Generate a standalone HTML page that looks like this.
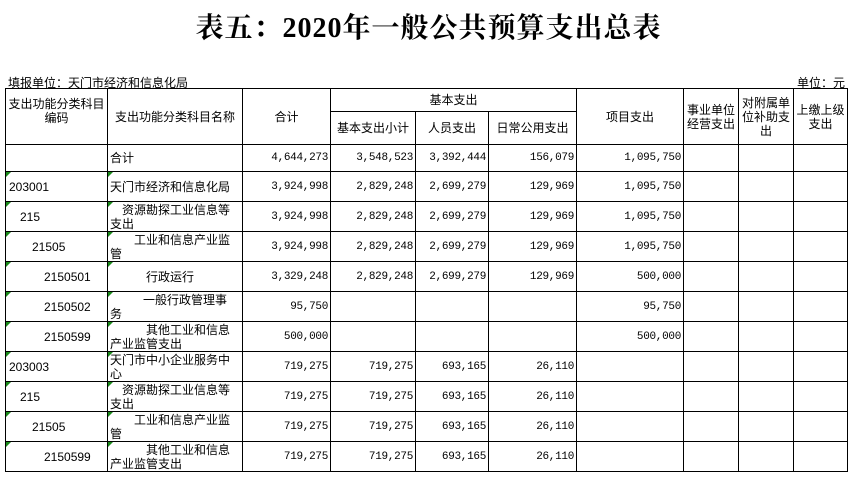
<!DOCTYPE html>
<html><head><meta charset="utf-8"><style>
body{margin:0;width:857px;height:486px;background:#fff;overflow:hidden;font-family:"Liberation Sans","Noto Sans CJK SC",sans-serif;position:relative}
#title{position:absolute;left:0;top:6px;width:857px;text-align:center;font-family:"Liberation Serif","Noto Serif CJK SC",serif;font-weight:bold;font-size:28px;letter-spacing:1px}
.unit{position:absolute;top:74px;font-size:12px}
table{position:absolute;left:5px;top:88px;border-collapse:collapse;table-layout:fixed;font-size:12px}
td{border:1px solid #000;padding:0 2px;overflow:hidden;white-space:nowrap;line-height:14px;position:relative}
td.n{text-align:right;font-family:"Liberation Mono",monospace;font-size:11px;letter-spacing:-0.3px}
td.h{text-align:center;white-space:normal}
.c{height:29px;display:flex;align-items:center;overflow:visible}
.c2{height:29px;overflow:visible;padding-top:1px;box-sizing:border-box}
td.n .c{justify-content:flex-end}
.g:before{content:"";position:absolute;left:0;top:0;border-top:5px solid #1a8a1a;border-right:5px solid transparent}
</style></head><body>
<div id="title">表五：2020年一般公共预算支出总表</div>
<div class="unit" style="left:8px">填报单位：天门市经济和信息化局</div>
<div class="unit" style="left:797px">单位：元</div>
<table>
<colgroup><col style="width:102px"><col style="width:135px"><col style="width:88px"><col style="width:85px"><col style="width:73px"><col style="width:88px"><col style="width:107px"><col style="width:55px"><col style="width:55px"><col style="width:54px"></colgroup>
<tr style="height:23px">
<td class="h" rowspan="2" style="vertical-align:top;padding-top:8px">支出功能分类科目编码</td>
<td class="h" rowspan="2">支出功能分类科目名称</td>
<td class="h" rowspan="2">合计</td>
<td class="h" colspan="3">基本支出</td>
<td class="h" rowspan="2">项目支出</td>
<td class="h" rowspan="2">事业单位经营支出</td>
<td class="h" rowspan="2">对附属单位补助支出</td>
<td class="h" rowspan="2">上缴上级支出</td></tr>
<tr style="height:33px">
<td class="h">基本支出小计</td>
<td class="h">人员支出</td>
<td class="h">日常公用支出</td></tr>
<tbody id="body"></tbody>
</table>
<script>
const codes=["","203001","215","21505","2150501","2150502","2150599","203003","215","21505","2150599"];
const codeIndent=[0,0,11,23,35,35,35,0,11,23,35];
const names=["合计","天门市经济和信息化局","资源勘探工业信息等<br>支出","工业和信息产业监<br>管","行政运行","一般行政管理事<br>务","其他工业和信息<br>产业监管支出","天门市中小企业服务中<br>心","资源勘探工业信息等<br>支出","工业和信息产业监<br>管","其他工业和信息<br>产业监管支出"];
const nameIndent=[0,0,12,24,36,33,36,0,12,24,36];
const totals=["4,644,273","3,924,998","3,924,998","3,924,998","3,329,248","95,750","500,000","719,275","719,275","719,275","719,275"];
const basicSub=["3,548,523","2,829,248","2,829,248","2,829,248","2,829,248","","","719,275","719,275","719,275","719,275"];
const personnel=["3,392,444","2,699,279","2,699,279","2,699,279","2,699,279","","","693,165","693,165","693,165","693,165"];
const publicExp=["156,079","129,969","129,969","129,969","129,969","","","26,110","26,110","26,110","26,110"];
const project=["1,095,750","1,095,750","1,095,750","1,095,750","500,000","95,750","500,000","","","",""];
const tb=document.getElementById('body');
for(let i=0;i<codes.length;i++){
 const tr=document.createElement('tr');
 
 
 const hh=(i==0?'26px':'29px');
 let h='<td class="'+(i>0?'g':'')+'" style="padding-left:'+(3+codeIndent[i])+'px"><div class="c" style="height:'+hh+'">'+codes[i]+'</div></td>';
 const nm=names[i];
 const ind=nameIndent[i];
 h+='<td class="'+(i>0?'g':'')+'">'+(nm.includes('<br>')?'<div class="c2" style="height:'+hh+'"><span style="display:inline-block;text-indent:'+ind+'px">'+nm+'</span></div>':'<div class="c" style="height:'+hh+';padding-left:'+ind+'px">'+nm+'</div>')+'</td>';
 [totals,basicSub,personnel,publicExp,project].forEach(a=>{h+='<td class="n"><div class="c" style="height:'+hh+'">'+a[i]+'</div></td>';});
 h+='<td><div class="c" style="height:'+hh+'"></div></td><td><div class="c" style="height:'+hh+'"></div></td><td><div class="c" style="height:'+hh+'"></div></td>';
 tr.innerHTML=h;
 tb.appendChild(tr);
}
</script>
</body></html>
